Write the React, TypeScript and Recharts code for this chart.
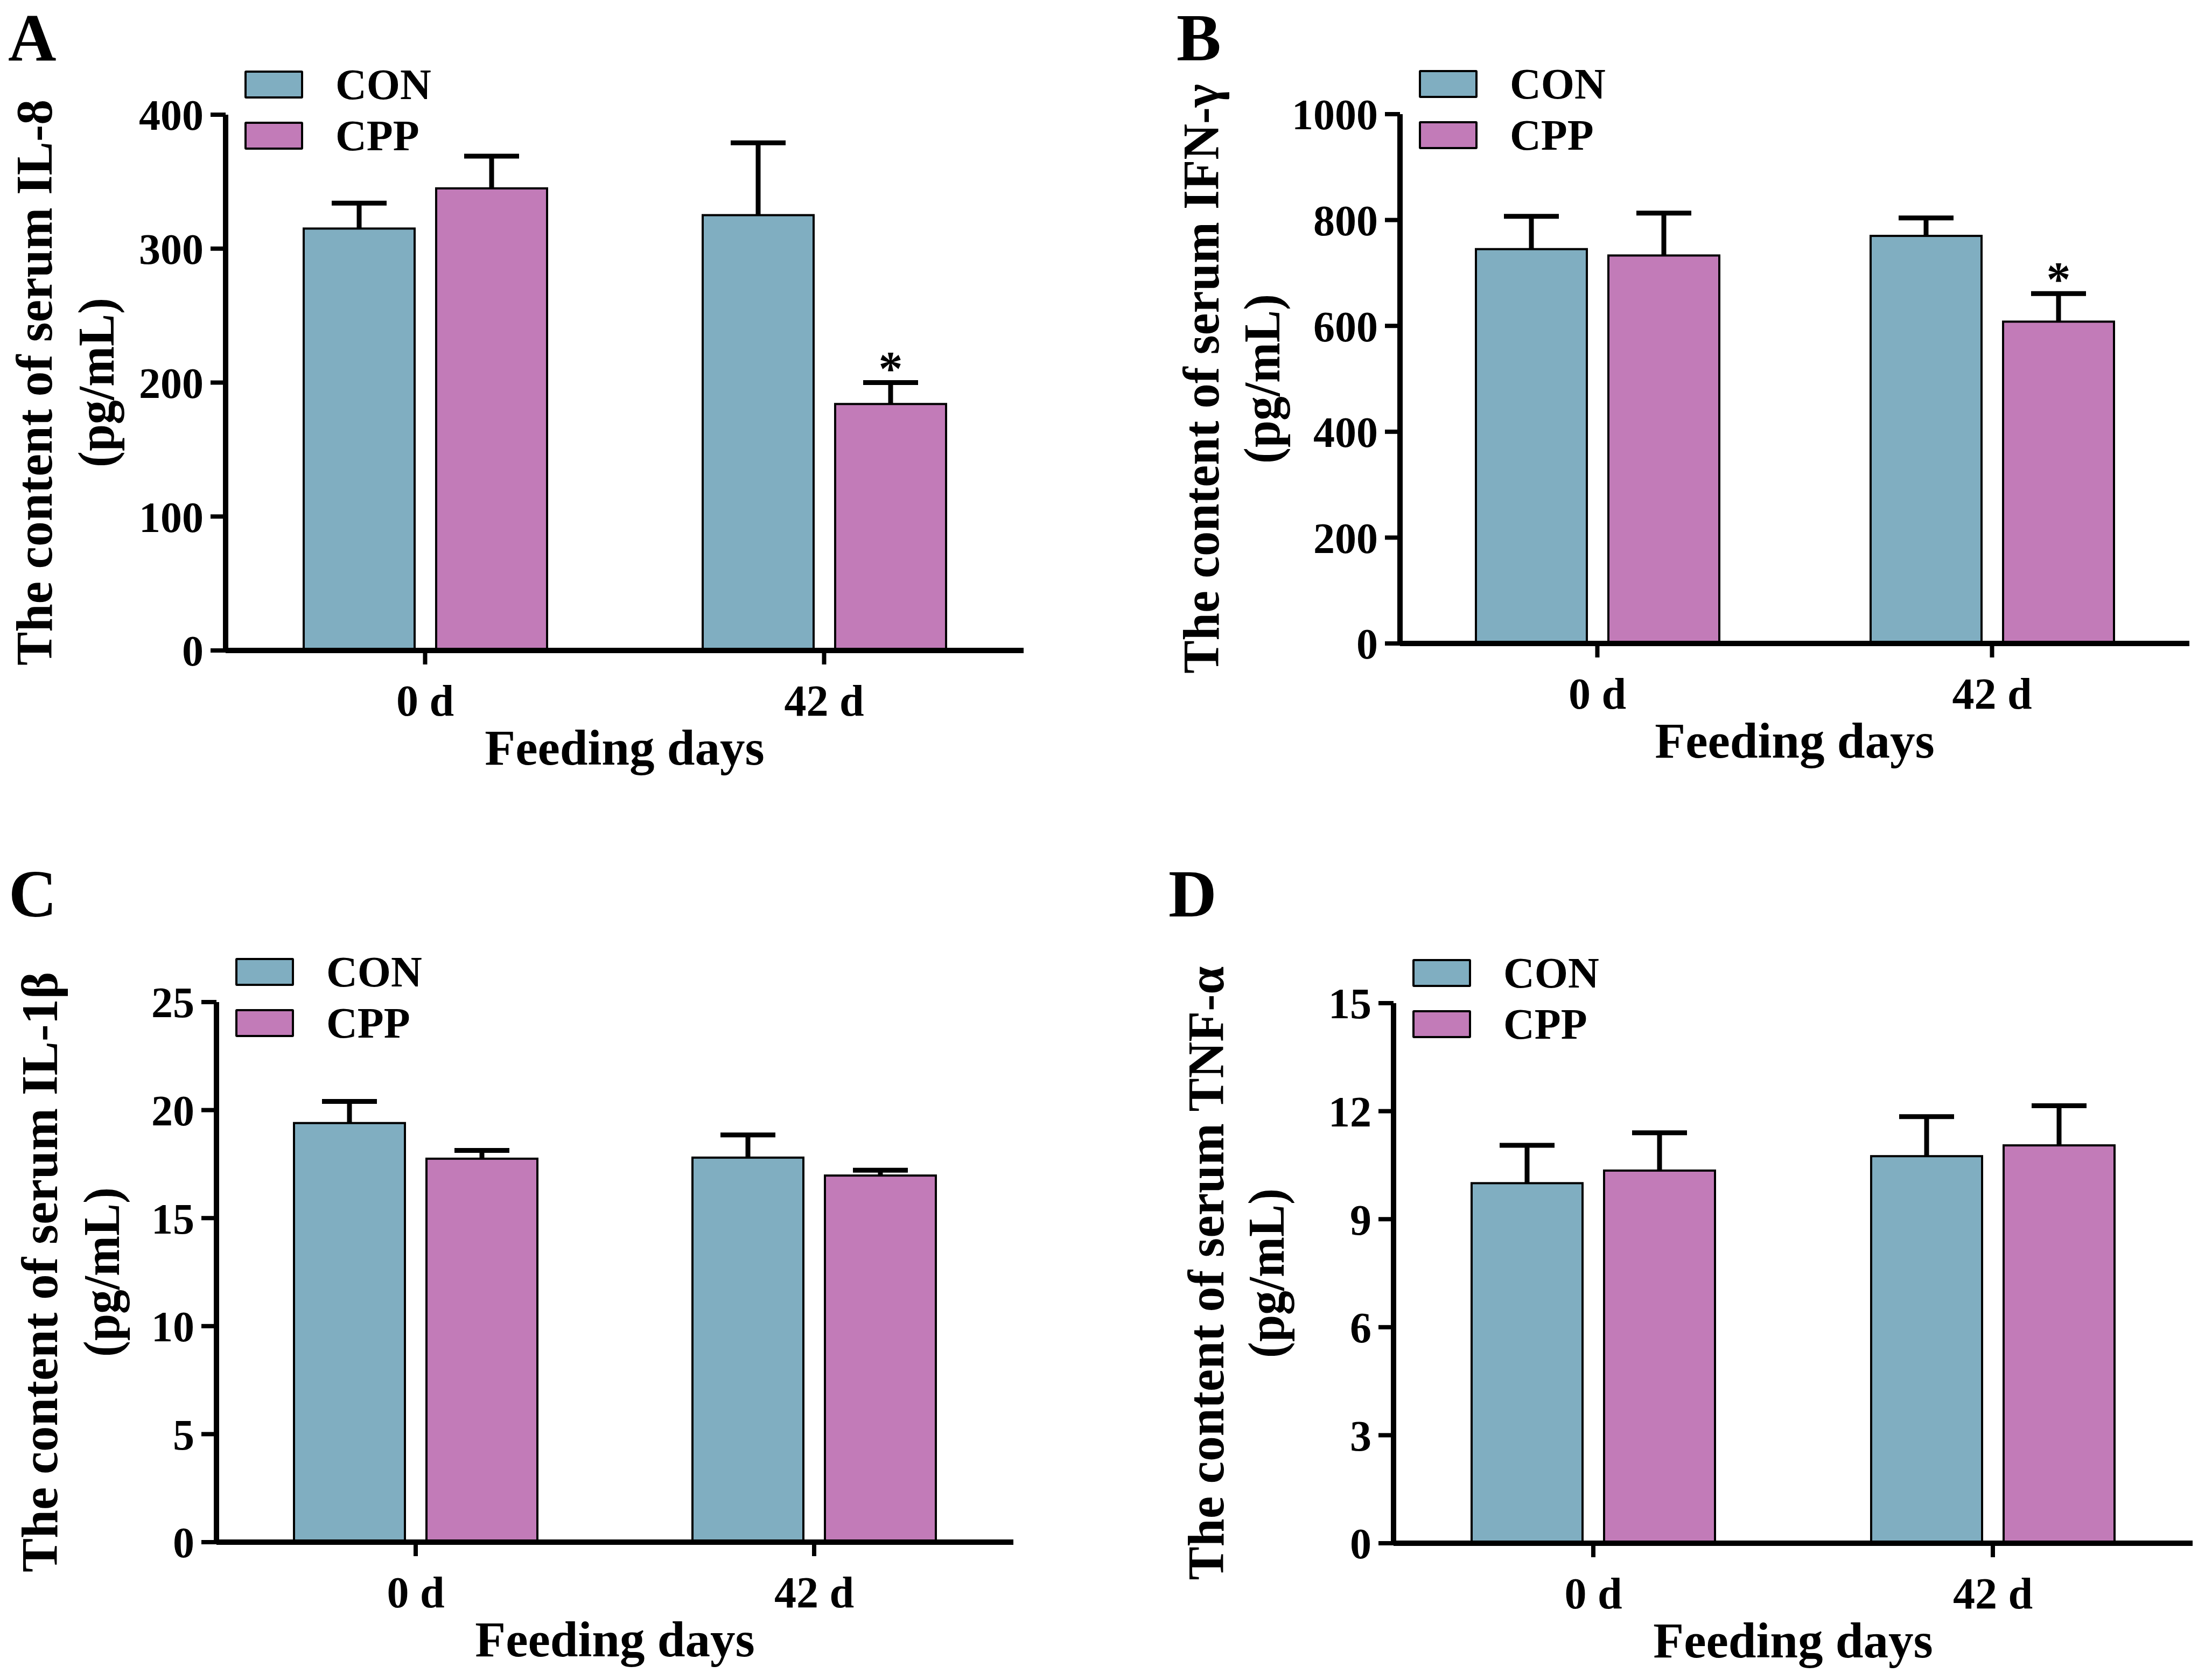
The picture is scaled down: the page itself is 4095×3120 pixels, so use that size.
import React from 'react';
import { BarChart, Bar, XAxis, YAxis, Legend } from 'recharts';

const FONT = '"Liberation Serif", "Times New Roman", serif';
const COLORS: Record<string, string> = { CON: '#80aec1', CPP: '#c27bb8' };

// categories and series
const DAYS = ['0 d', '42 d'];
const GROUPS = ['CON', 'CPP'];

// A: IL-8 (pg/mL)
const IL8_CON = [315, 325];
const IL8_CON_SD = [19, 54];
const IL8_CPP = [345, 184];
const IL8_CPP_SD = [24, 16];
const IL8_CPP_SIG = ['', '*'];
const IL8_TICKS = [0, 100, 200, 300, 400];

// B: IFN-γ (pg/mL)
const IFN_CON = [745, 770];
const IFN_CON_SD = [62, 34];
const IFN_CPP = [733, 608];
const IFN_CPP_SD = [80, 53];
const IFN_CPP_SIG = ['', '*'];
const IFN_TICKS = [0, 200, 400, 600, 800, 1000];

// C: IL-1β (pg/mL)
const IL1B_CON = [19.4, 17.8];
const IL1B_CON_SD = [1.0, 1.05];
const IL1B_CPP = [17.75, 16.97];
const IL1B_CPP_SD = [0.38, 0.25];
const IL1B_CPP_SIG = ['', ''];
const IL1B_TICKS = [0, 5, 10, 15, 20, 25];

// D: TNF-α (pg/mL)
const TNF_CON = [10.0, 10.75];
const TNF_CON_SD = [1.05, 1.1];
const TNF_CPP = [10.35, 11.05];
const TNF_CPP_SD = [1.05, 1.1];
const TNF_CPP_SIG = ['', ''];
const TNF_TICKS = [0, 3, 6, 9, 12, 15];

const buildRows = (
  con: number[], conSd: number[], cpp: number[], cppSd: number[], cppSig: string[]
) =>
  DAYS.map((day, i) => ({
    day,
    CON: con[i],
    CON_sd: conSd[i],
    CON_sig: '',
    CPP: cpp[i],
    CPP_sd: cppSd[i],
    CPP_sig: cppSig[i],
  }));

// bar rectangle with a one-sided (upper) SD whisker and optional significance mark
const barWithError = (key: string) => (props: any) => {
  const { x, y, width, height, fill, payload } = props;
  const v = payload[key];
  const sd = payload[key + '_sd'];
  const sig = payload[key + '_sig'];
  const unit = v ? height / v : 0;
  const top = y - sd * unit;
  const cx = x + width / 2;
  return (
    <g>
      <rect x={x} y={y} width={width} height={height} fill={fill} stroke="#000" strokeWidth={4} />
      <line x1={cx} y1={y} x2={cx} y2={top} stroke="#000" strokeWidth={9} />
      <line x1={cx - 51} y1={top} x2={cx + 51} y2={top} stroke="#000" strokeWidth={9} />
      {sig ? (
        <text x={cx} y={top + 4} textAnchor="middle" fontFamily={FONT} fontWeight="bold" fontSize={90} fill="#000">
          {sig}
        </text>
      ) : null}
    </g>
  );
};

const renderLegend = (props: any) => {
  const items = props.payload || [];
  return (
    <div>
      {items.map((entry: any, i: number) => (
        <div key={i} style={{ display: 'flex', alignItems: 'center', height: 52, marginBottom: 43 }}>
          <div
            style={{
              width: 109,
              height: 52,
              boxSizing: 'border-box',
              border: '4px solid #000',
              borderRadius: 3,
              background: COLORS[entry.value] || entry.color,
            }}
          />
          <span
            style={{
              marginLeft: 60,
              fontFamily: FONT,
              fontWeight: 'bold',
              fontSize: 80,
              lineHeight: '52px',
              color: '#000',
            }}
          >
            {entry.value}
          </span>
        </div>
      ))}
    </div>
  );
};

type PanelProps = {
  left: number;
  top: number;
  letter: string;
  letterX: number;
  letterY: number;
  data: any[];
  ticks: number[];
  axisX: number;
  plotTop: number;
  zero: number;
  right: number;
  title: string;
  titleX: number;
  titleLen: number;
  unitX: number;
};

const W = 2047;
const H = 1560;
const Y_W = 300;
const X_H = 150;

const tickStyle = { fontFamily: FONT, fontWeight: 'bold', fill: '#000' };

function RotatedLabel({ x, y, len, children }: { x: number; y: number; len: number; children: React.ReactNode }) {
  return (
    <text
      x={x}
      y={y}
      fontSize={96}
      textAnchor="middle"
      textLength={len}
      lengthAdjust="spacingAndGlyphs"
      transform={`rotate(-90 ${x} ${y})`}
    >
      {children}
    </text>
  );
}

function Panel(p: PanelProps) {
  const margin = {
    top: p.plotTop,
    right: W - p.right,
    left: p.axisX - Y_W,
    bottom: H - p.zero - X_H,
  };
  const midX = (p.axisX + p.right) / 2;
  const midY = (p.plotTop + p.zero) / 2;
  const max = p.ticks[p.ticks.length - 1];
  return (
    <div style={{ position: 'absolute', left: p.left, top: p.top, width: W, height: H }}>
      <BarChart width={W} height={H} data={p.data} margin={margin} barSize={206} barGap={40}>
        <XAxis
          dataKey="day"
          height={X_H}
          interval={0}
          axisLine={{ stroke: '#000', strokeWidth: 10 }}
          tickLine={{ stroke: '#000', strokeWidth: 8 }}
          tickSize={26}
          tickMargin={37}
          tick={{ ...tickStyle, fontSize: 82 }}
        />
        <YAxis
          type="number"
          domain={[0, max]}
          ticks={p.ticks}
          width={Y_W}
          interval={0}
          axisLine={{ stroke: '#000', strokeWidth: 10 }}
          tickLine={{ stroke: '#000', strokeWidth: 8 }}
          tickSize={28}
          tickMargin={13}
          tick={{ ...tickStyle, fontSize: 80 }}
        />
        <Legend
          layout="vertical"
          align="center"
          verticalAlign="middle"
          content={renderLegend}
          wrapperStyle={{ left: p.axisX + 35, top: p.plotTop - 82, width: 'auto', height: 'auto' }}
        />
        {GROUPS.map((g) => (
          <Bar key={g} dataKey={g} fill={COLORS[g]} isAnimationActive={false} shape={barWithError(g)} />
        ))}
      </BarChart>
      <svg
        width={W}
        height={H}
        style={{ position: 'absolute', left: 0, top: 0, pointerEvents: 'none' }}
        fontFamily={FONT}
        fontWeight="bold"
        fill="#000"
      >
        <text x={p.letterX} y={p.letterY} fontSize={124}>
          {p.letter}
        </text>
        <RotatedLabel x={p.titleX} y={midY} len={p.titleLen}>
          {p.title}
        </RotatedLabel>
        <RotatedLabel x={p.unitX} y={midY} len={315}>
          (pg/mL)
        </RotatedLabel>
        <text x={midX} y={p.zero + 212} fontSize={93} textAnchor="middle">
          Feeding days
        </text>
      </svg>
    </div>
  );
}

export default function App() {
  return (
    <div style={{ position: 'absolute', left: 0, top: 0, width: 4095, height: 3120, background: '#fff' }}>
      <Panel
        left={0}
        top={0}
        letter="A"
        letterX={15}
        letterY={112}
        data={buildRows(IL8_CON, IL8_CON_SD, IL8_CPP, IL8_CPP_SD, IL8_CPP_SIG)}
        ticks={IL8_TICKS}
        axisX={419}
        plotTop={213}
        zero={1208}
        right={1901}
        title="The content of serum IL-8"
        titleX={96}
        titleLen={1051}
        unitX={211}
      />
      <Panel
        left={2048}
        top={0}
        letter="B"
        letterX={137}
        letterY={112}
        data={buildRows(IFN_CON, IFN_CON_SD, IFN_CPP, IFN_CPP_SD, IFN_CPP_SIG)}
        ticks={IFN_TICKS}
        axisX={552}
        plotTop={212}
        zero={1195}
        right={2018}
        title="The content of serum IFN-γ"
        titleX={215}
        titleLen={1095}
        unitX={328}
      />
      <Panel
        left={0}
        top={1560}
        letter="C"
        letterX={16}
        letterY={142}
        data={buildRows(IL1B_CON, IL1B_CON_SD, IL1B_CPP, IL1B_CPP_SD, IL1B_CPP_SIG)}
        ticks={IL1B_TICKS}
        axisX={402}
        plotTop={301}
        zero={1304}
        right={1882}
        title="The content of serum IL-1β"
        titleX={106}
        titleLen={1115}
        unitX={221}
      />
      <Panel
        left={2048}
        top={1560}
        letter="D"
        letterX={122}
        letterY={142}
        data={buildRows(TNF_CON, TNF_CON_SD, TNF_CPP, TNF_CPP_SD, TNF_CPP_SIG)}
        ticks={TNF_TICKS}
        axisX={540}
        plotTop={303}
        zero={1306}
        right={2024}
        title="The content of serum TNF-α"
        titleX={224}
        titleLen={1140}
        unitX={336}
      />
    </div>
  );
}
